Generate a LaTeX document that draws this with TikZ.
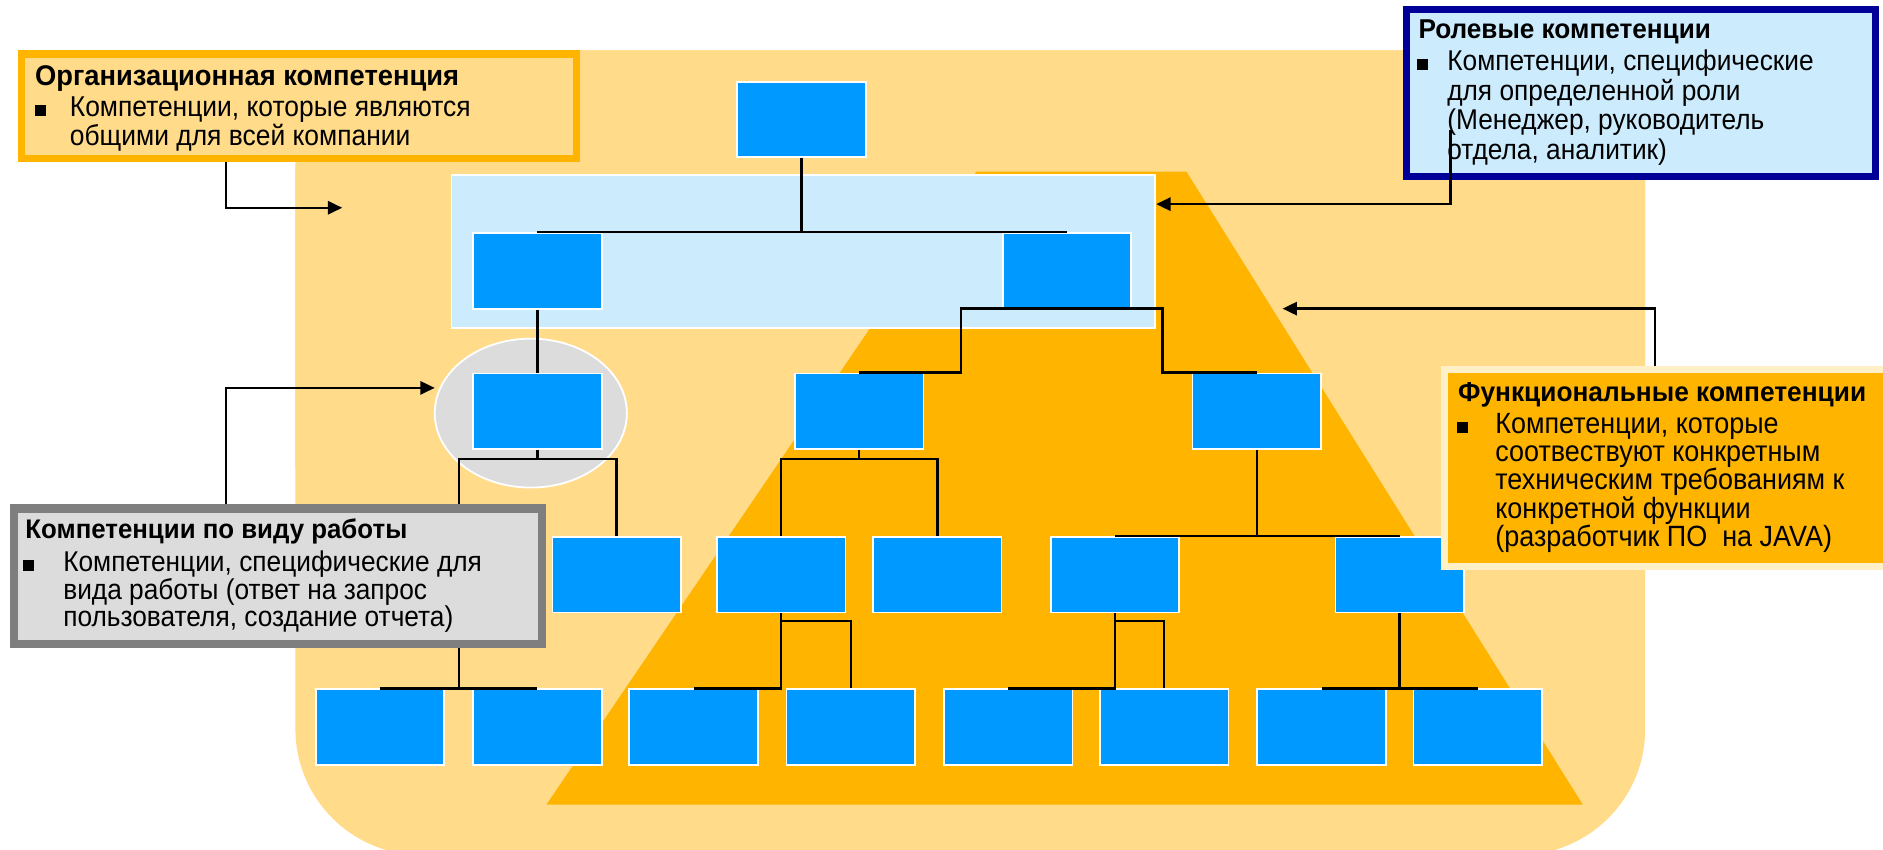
\documentclass[tikz,border=0pt]{standalone}
\usepackage{fontspec}
\setmainfont{Liberation Sans}
\newfontfamily\bodyf[FakeStretch=0.92]{Liberation Sans}
\newfontfamily\titlef[FakeStretch=0.96]{Liberation Sans}
\usetikzlibrary{arrows.meta}
\definecolor{bgor}{HTML}{FFDB8A}
\definecolor{tri}{HTML}{FFB400}
\definecolor{bx}{HTML}{0099FF}
\definecolor{lb}{HTML}{CCEBFC}
\definecolor{gr}{HTML}{DCDCDC}
\definecolor{navy}{HTML}{000099}
\definecolor{dgr}{HTML}{7F7F7F}
\definecolor{pale}{HTML}{FFF0C8}
\begin{document}
\begin{tikzpicture}[x=1pt,y=-1pt,
  bbox/.style={draw=white, line width=1.5pt, fill=bx, minimum width=107pt, minimum height=63pt, inner sep=0pt},
  conn/.style={black, line width=2pt},
  arr/.style={black, line width=2pt, -{Triangle[length=12pt,width=11pt]}},
  ln/.style={anchor=base west, inner sep=0pt, font=\bodyf\fontsize{#1}{25}\selectfont},
  ttl/.style={anchor=base west, inner sep=0pt, font=\titlef\fontsize{#1}{25}\selectfont\bfseries},
  bul/.style={anchor=base west, inner sep=0pt}
]
\useasboundingbox (0,0) rectangle (1568,707);
% background
\fill[bgor, rounded corners=105] (246,42) rectangle (1370,712);
\fill[bgor, rounded corners=12] (246,42) rectangle (1370,400);
% trapezoid
\fill[tri] (813,143) -- (988,143) -- (1318,670) -- (455,670) -- cycle;
% light blue band
\node[draw=white, line width=1.5pt, fill=lb, minimum width=586pt, minimum height=127pt, inner sep=0pt] (band) at (669,209.5) {};
% ellipse
\draw[white, line width=1.5pt, fill=gr] (442,344) ellipse [x radius=80, y radius=62];

% boxes
\node[bbox] (top) at (667.5,99.5) {};
\node[bbox] (l2a) at (447.5,225.5) {};
\node[bbox] (l2b) at (888.5,225.5) {};
\node[bbox] (l3a) at (447.5,342.5) {};
\node[bbox] (l3b) at (715.5,342.5) {};
\node[bbox] (l3c) at (1046.5,342.5) {};
\node[bbox] (l4a) at (513.5,478.5) {};
\node[bbox] (l4b) at (650.5,478.5) {};
\node[bbox] (l4c) at (780.5,478.5) {};
\node[bbox] (l4d) at (928.5,478.5) {};
\node[bbox] (l4e) at (1165.5,478.5) {};
\node[bbox] (l51) at (316.5,605.5) {};
\node[bbox] (l52) at (447.5,605.5) {};
\node[bbox] (l53) at (577.5,605.5) {};
\node[bbox] (l54) at (708.5,605.5) {};
\node[bbox] (l55) at (839.5,605.5) {};
\node[bbox] (l56) at (969.5,605.5) {};
\node[bbox] (l57) at (1100.5,605.5) {};
\node[bbox] (l58) at (1230.5,605.5) {};

% connectors
\draw[conn] (top.south) -- (top.south |- l2a.north);
\draw[conn] (l2a.north) -- (l2b.north);
\draw[conn] (l2a.south) -- (l3a.north);
\coordinate (e1) at (800,257);
\coordinate (e2) at (968,257);
\draw[conn] (l3b.north) -| (e1) -- (e2) |- (l3c.north);
\coordinate (a1) at (447.5,382);
\coordinate (a2) at (382,382);
\draw[conn] (l3a.south) -- (a1);
\draw[conn] (l4a.north) |- (a2) -- (a2 |- l51.north);
\draw[conn] (l51.north) -- (l52.north);
\coordinate (b1) at (715.5,382);
\draw[conn] (l3b.south) -- (b1);
\draw[conn] (l4b.north) |- (b1) -| (l4c.north);
\draw[conn] (l3c.south) -- (l3c.south |- l4d.north);
\draw[conn] (l4d.north) -- (l4e.north);
\coordinate (c1) at (650.5,517);
\draw[conn] (l4b.south) -- (l4b.south |- l53.north) -- (l53.north);
\draw[conn] (c1) -| (l54.north);
\coordinate (c2) at (928.5,517);
\draw[conn] (l4d.south) -- (l4d.south |- l55.north) -- (l55.north);
\draw[conn] (c2) -| (l56.north);
\draw[conn] (l4e.south) -- (l4e.south |- l57.north);
\draw[conn] (l57.north) -- (l58.north);

% text boxes
\node[draw=tri, line width=6pt, fill=bgor, minimum width=462pt, minimum height=87pt, inner sep=0pt] (org) at (249,88.5) {};
\node[ttl=23.7] (orgt) at (29,71.5) {Организационная компетенция};
\node[bul] (orgb) at (29,97) {\rule[0.5pt]{9pt}{9pt}};
\node[ln=23.9] (org1) at (58,97) {Компетенции, которые являются};
\node[ln=23.9] (org2) at (58,121) {общими для всей компании};

\node[draw=navy, line width=6pt, fill=lb, minimum width=391pt, minimum height=139pt, inner sep=0pt] (role) at (1366.5,77.5) {};
\node[ttl=22.7] (rolet) at (1181,32) {Ролевые компетенции};
\node[bul] (roleb) at (1180,59) {\rule[0.5pt]{9pt}{9pt}};
\node[ln=23.8] (role1) at (1205,59) {Компетенции, специфические};
\node[ln=23.8] (role2) at (1205,84) {для определенной роли};
\node[ln=23.8] (role3) at (1205,108) {(Менеджер, руководитель};
\node[ln=23.8] (role4) at (1205,133) {отдела, аналитик)};

\node[draw=pale, line width=6pt, fill=tri, minimum width=372pt, minimum height=164pt, inner sep=0pt] (func) at (1389,390) {};
\node[ttl=22.8] (funct) at (1214,334.5) {Функциональные компетенции};
\node[bul] (funcb) at (1213,361) {\rule[0.5pt]{9pt}{9pt}};
\node[ln=24.4] (func1) at (1245,361) {Компетенции, которые};
\node[ln=24.4] (func2) at (1245,384.5) {соотвествуют конкретным};
\node[ln=24.4] (func3) at (1245,408) {техническим требованиям к};
\node[ln=24.4] (func4) at (1245,431.5) {конкретной функции};
\node[ln=24.4] (func5) at (1245,455) {(разработчик ПО\ \ на JAVA)};

\node[draw=dgr, line width=7pt, fill=gr, minimum width=440pt, minimum height=113pt, inner sep=0pt] (work) at (231.5,480) {};
\node[ttl=22.4] (workt) at (21,448) {Компетенции по виду работы};
\node[bul] (workb) at (19,476) {\rule[0.5pt]{9pt}{9pt}};
\node[ln=23.8] (work1) at (52.5,476) {Компетенции, специфические для};
\node[ln=23.8] (work2) at (52.5,499) {вида работы (ответ на запрос};
\node[ln=23.8] (work3) at (52.5,522) {пользователя, создание отчета)};

% arrows
\coordinate (oa) at (188,173);
\coordinate (ob) at (285,173);
\draw[arr] (org.south -| oa) -- (oa) -- (ob);
\coordinate (ra) at (1208,108);
\coordinate (rb) at (1208,170);
\draw[arr] (ra) -- (rb) -- (band.east |- rb);
\coordinate (fa) at (1378,257);
\coordinate (fb) at (1068,257);
\draw[arr] (func.north -| fa) -- (fa) -- (fb);
\coordinate (wa) at (188,323);
\coordinate (wb) at (362,323);
\draw[arr] (work.north -| wa) -- (wa) -- (wb);
\end{tikzpicture}
\end{document}
